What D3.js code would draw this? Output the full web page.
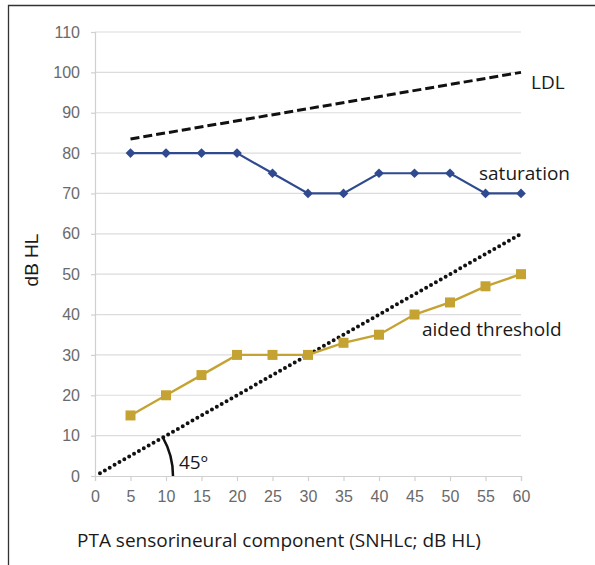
<!DOCTYPE html>
<html>
<head>
<meta charset="utf-8">
<script src="https://cdn.jsdelivr.net/npm/d3@7"></script>
<style>
  body { margin: 0; background: #fff; }
  svg { display: block; }
</style>
</head>
<body>
<svg id="chart" width="595" height="565"></svg>
<script>
// data
var pta = [5, 10, 15, 20, 25, 30, 35, 40, 45, 50, 55, 60];
var saturation = [80, 80, 80, 80, 75, 70, 70, 75, 75, 75, 70, 70];
var aided = [15, 20, 25, 30, 30, 30, 33, 35, 40, 43, 47, 50];
var ldl = [[5, 83.5], [60, 100]];
var diagonal = [[0.7, 0.7], [60, 60]];
var x_ticks = d3.range(0, 61, 5);
var y_ticks = d3.range(0, 111, 10);

var margin = {left: 95, top: 32};
var width = 426, height = 444;

var chart = d3.select('#chart');

// frame (top + left only)
chart.append('path')
    .attr('d', 'M8.5,565 V5.5 H595')
    .attr('fill', 'none')
    .attr('stroke', '#333')
    .attr('stroke-width', 1.3);

var xs = d3.scaleLinear().domain([0, 60]).range([0, width]);
var ys = d3.scaleLinear().domain([0, 110]).range([height, 0]);

var g = chart.append('g')
    .attr('transform', 'translate(' + margin.left + ',' + margin.top + ')');

// gridlines
g.selectAll('.grid')
    .data(y_ticks.filter(d => d > 0))
    .enter()
    .append('line')
        .attr('x1', 0)
        .attr('x2', width)
        .attr('y1', d => ys(d))
        .attr('y2', d => ys(d))
        .attr('stroke', '#dcdcdc')
        .attr('stroke-width', 1.2);

var yAxis = g.append('g')
    .call(d3.axisLeft(ys).tickValues(y_ticks).tickSize(4).tickPadding(11));
var xAxis = g.append('g')
    .attr('transform', 'translate(0,' + height + ')')
    .call(d3.axisBottom(xs).tickValues(x_ticks).tickSize(5).tickPadding(10));

[yAxis, xAxis].forEach(function(ax) {
    ax.selectAll('path, line').attr('stroke', '#d0d0d0').attr('stroke-width', 1.2);
    ax.select('.domain').attr('stroke', '#d0d0d0');
    ax.selectAll('text')
        .attr('fill', '#6a6a6a')
        .style('font-family', 'Liberation Sans, Arial, sans-serif')
        .style('font-size', '16px');
});

var line = d3.line().x(d => xs(d[0])).y(d => ys(d[1]));

// LDL dashed
g.append('path')
    .datum(ldl)
    .attr('d', line)
    .attr('fill', 'none')
    .attr('stroke', '#111')
    .attr('stroke-width', 3)
    .attr('stroke-dasharray', '9,4');

// 45 degree dotted line
g.append('path')
    .datum(diagonal)
    .attr('d', line)
    .attr('fill', 'none')
    .attr('stroke', '#111')
    .attr('stroke-width', 4)
    .attr('stroke-linecap', 'round')
    .attr('stroke-dasharray', '0,5.6');

// saturation
var blue = '#2f4a8e';
var sat_data = pta.map((p, i) => [p, saturation[i]]);
g.append('path')
    .datum(sat_data)
    .attr('d', line)
    .attr('fill', 'none')
    .attr('stroke', blue)
    .attr('stroke-width', 2.2);
g.selectAll('.diamond')
    .data(sat_data)
    .enter()
    .append('path')
        .attr('d', d3.symbol().type(d3.symbolDiamond2).size(60))
        .attr('transform', d => 'translate(' + xs(d[0]) + ',' + ys(d[1]) + ')')
        .attr('fill', blue);

// aided threshold
var gold = '#c5a332';
var aid_data = pta.map((p, i) => [p, aided[i]]);
g.append('path')
    .datum(aid_data)
    .attr('d', line)
    .attr('fill', 'none')
    .attr('stroke', gold)
    .attr('stroke-width', 2.4);
g.selectAll('.square')
    .data(aid_data)
    .enter()
    .append('rect')
        .attr('x', d => xs(d[0]) - 5)
        .attr('y', d => ys(d[1]) - 5)
        .attr('width', 10)
        .attr('height', 10)
        .attr('fill', gold);

// angle arc
var ang = Math.atan2(ys(0) - ys(60), xs(60) - xs(0));
var r = 78;
g.append('path')
    .attr('d', 'M' + (xs(0) + r * Math.cos(ang)) + ',' + (ys(0) - r * Math.sin(ang)) +
        ' A' + r + ',' + r + ' 0 0 1 ' + (xs(0) + r) + ',' + ys(0))
    .attr('fill', 'none')
    .attr('stroke', '#111')
    .attr('stroke-width', 2.5);

var label_font = 'Open Sans, Noto Sans, sans-serif';
var labels = [
    {text: 'LDL', x: 531, y: 89},
    {text: 'saturation', x: 479, y: 180},
    {text: 'aided threshold', x: 422, y: 336},
    {text: '45º', x: 179, y: 469}
];
chart.selectAll('.lbl')
    .data(labels)
    .enter()
    .append('text')
        .attr('x', d => d.x)
        .attr('y', d => d.y)
        .style('font-family', label_font)
        .style('font-size', '19px')
        .attr('fill', '#1a1a1a')
        .text(d => d.text);

chart.append('text')
    .attr('x', 77)
    .attr('y', 547)
    .style('font-family', label_font)
    .style('font-size', '19px')
    .attr('fill', '#1a1a1a')
    .text('PTA sensorineural component (SNHLc; dB HL)');

chart.append('text')
    .attr('transform', 'translate(38,260) rotate(-90)')
    .style('text-anchor', 'middle')
    .style('font-family', 'Liberation Sans, Arial, sans-serif')
    .style('font-size', '19px')
    .attr('fill', '#1a1a1a')
    .text('dB HL');
</script>
</body>
</html>
